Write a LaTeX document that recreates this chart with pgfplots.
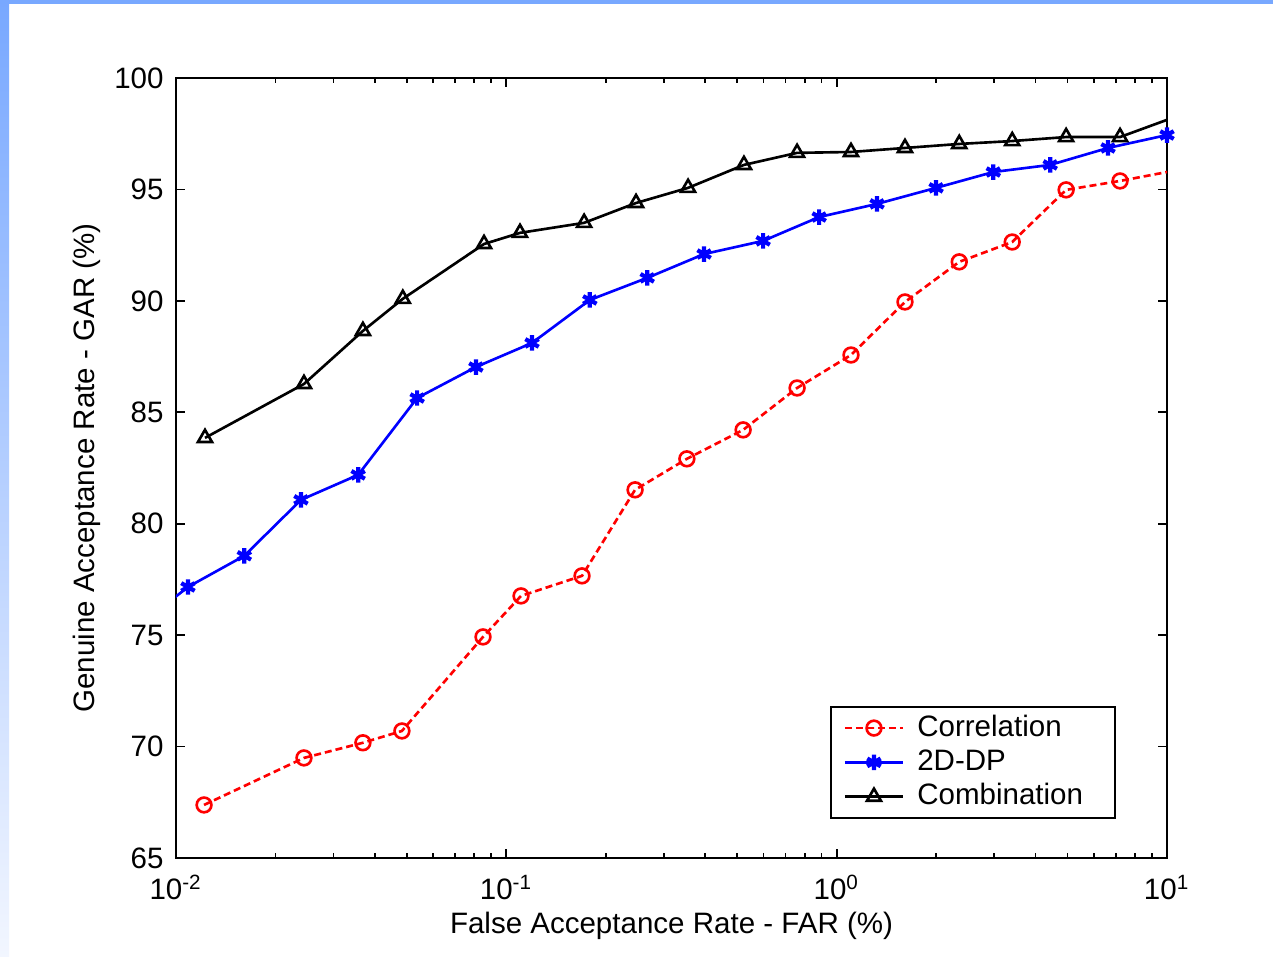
\documentclass[border=0pt]{standalone}
\usepackage{pgfplots}
\pgfplotsset{compat=1.18}
\usepackage{fontspec}
\setmainfont{Liberation Sans}
\definecolor{bandtop}{HTML}{78A8FF}
\definecolor{bandbot}{HTML}{F2F6FF}
\definecolor{mred}{HTML}{FF0000}
\definecolor{mblue}{HTML}{0000FF}
\begin{document}
\begin{tikzpicture}[x=1mm,y=1mm]
\useasboundingbox (0,0) rectangle (127.3,95.7);
\fill[white] (0,0) rectangle (127.3,95.7);
\shade[top color=bandtop, bottom color=bandbot] (0,0) rectangle (0.9,95.7);
\fill[bandtop] (0,95.3) rectangle (127.3,95.7);
\begin{axis}[
  at={(17.6mm,9.9mm)}, anchor=south west,
  scale only axis, width=99.1mm, height=78mm,
  xmode=log, xmin=0.01, xmax=10, ymin=65, ymax=100,
  xtick={0.01,0.1,1,10},
  xticklabels={10\textsuperscript{-2},10\textsuperscript{-1},10\textsuperscript{0},10\textsuperscript{1}},
  ytick={65,70,75,80,85,90,95,100},
  /pgf/number format/assume math mode=true,
  tick align=inside, major tick length=0.9mm, minor tick length=0.5mm,
  tick style={black, line width=0.5pt},
  axis line style={line width=0.6pt},
  font=\fontsize{8.4}{10}\selectfont,
  tick label style={font=\fontsize{8.4}{10}\selectfont},
  xticklabel style={yshift=-0.5mm},
  xlabel={False Acceptance Rate - FAR (\%)},
  ylabel={Genuine Acceptance Rate - GAR (\%)},
  xlabel style={yshift=1.2mm},
  ylabel style={yshift=-1mm},
  clip=true,
  legend cell align=left,
  legend style={at={(0.9485,0.05)}, anchor=south east, draw=black, line width=0.5pt,
    font=\fontsize{8.4}{10}\selectfont, row sep=-0.6mm, inner xsep=1.3mm, inner ysep=0.1mm},
  legend image code/.code={
    \draw[mark repeat=2,mark phase=2] plot coordinates {(0cm,0cm) (0.29cm,0cm) (0.58cm,0cm)};
  },
]
\addplot[mred, line width=0.75pt, dash pattern=on 0.7mm off 0.4mm, mark=o, mark size=2.1pt, mark options={solid, line width=0.75pt}]
coordinates {
(0.01216,67.38) (0.0244,69.49) (0.0368,70.17) (0.0483,70.70) (0.0850,74.92)
(0.1108,76.76) (0.1695,77.66) (0.2453,81.52) (0.352,82.91) (0.521,84.21)
(0.759,86.09) (1.105,87.57) (1.61,89.95) (2.35,91.75) (3.40,92.64)
(4.95,94.98) (7.21,95.38) (13,96.10)
};
\addlegendentry{\rule{0.6mm}{0pt}Correlation}
\addplot[mblue, line width=0.75pt, mark=asterisk, mark size=2.2pt, mark options={line width=1.2pt}]
coordinates {
(0.009,76.2) (0.01087,77.16) (0.0161,78.56) (0.0239,81.07) (0.0356,82.19) (0.0537,85.64)
(0.0809,87.03) (0.1196,88.11) (0.179,90.04) (0.267,91.03) (0.397,92.10)
(0.599,92.69) (0.885,93.76) (1.325,94.35) (2.0,95.07) (2.98,95.78)
(4.43,96.10) (6.63,96.86) (10,97.44)
};
\addlegendentry{\rule{0.6mm}{0pt}2D-DP}
\addplot[black, line width=0.75pt, mark=triangle, mark size=2.3pt, mark options={line width=0.75pt}]
coordinates {
(0.01224,83.85) (0.0244,86.27) (0.0368,88.65) (0.0486,90.09) (0.0856,92.55)
(0.110,93.05) (0.172,93.5) (0.247,94.39) (0.355,95.07) (0.524,96.10)
(0.759,96.64) (1.105,96.68) (1.61,96.86) (2.35,97.04) (3.40,97.17)
(4.95,97.35) (7.21,97.35) (13,98.74)
};
\addlegendentry{\rule{0.6mm}{0pt}Combination\rule{1.2mm}{0pt}}
\end{axis}
\end{tikzpicture}
\end{document}
